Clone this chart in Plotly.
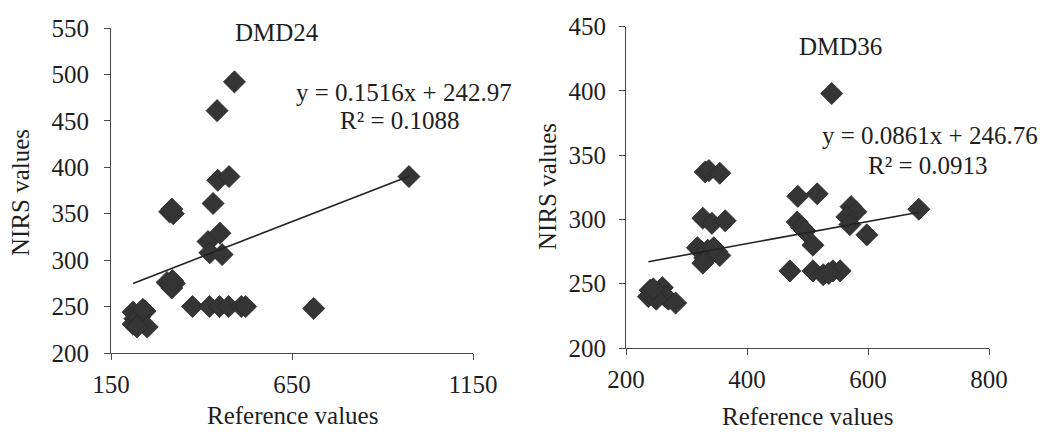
import plotly.graph_objects as go

W, H = 1045, 432

# ---- DMD24 data ----
ref24 = [491, 443, 445, 476, 432, 312, 322, 318, 418, 451, 423, 457,
         305, 315, 325, 318, 320, 375, 422, 450, 475, 510, 522, 710, 973,
         211, 244, 216, 211, 228, 230, 250, 222, 238]
nirs24 = [492, 461, 386, 390, 361, 352, 350, 355, 320, 329, 308, 306,
          276, 273, 275, 270, 278, 250, 250, 250, 250, 250, 250, 248, 390,
          244, 245, 237, 231, 238, 233, 228, 228, 247]

# ---- DMD36 data ----
ref36 = [540, 331, 337, 355, 327, 342, 364,
         318, 325, 330, 335, 340, 350, 355, 345, 327,
         237, 240, 255, 260, 265, 270, 282, 250, 245,
         471, 484, 516, 483, 490, 496, 509,
         509, 526, 542, 554, 535, 572, 580, 565, 570, 598, 684]
nirs36 = [398, 337, 338, 336, 301, 297, 299,
          278, 275, 270, 276, 273, 275, 272, 278, 266,
          240, 245, 242, 247, 240, 238, 235, 238, 246,
          260, 318, 320, 298, 294, 291, 280,
          260, 257, 260, 260, 258, 310, 306, 302, 296, 288, 308]

slope24, icpt24, r2_24 = 0.1516, 242.97, 0.1088
slope36, icpt36, r2_36 = 0.0861, 246.76, 0.0913

titles = ["DMD24", "DMD36"]
x_title = "Reference values"
y_title = "NIRS values"
x24_ticks = [150, 650, 1150]
y24_ticks = [200, 250, 300, 350, 400, 450, 500, 550]
x36_ticks = [200, 400, 600, 800]
y36_ticks = [200, 250, 300, 350, 400, 450]

FONT = "Liberation Serif"
FS = 25
MARK = "#353535"
TXT = "#1e1e1e"
AX = "#4a4a4a"

fig = go.Figure()

def add_panel(xs, ys, slope, icpt, xa, ya):
    fig.add_trace(go.Scatter(
        x=xs, y=ys, mode="markers", xaxis=xa, yaxis=ya, showlegend=False,
        marker=dict(symbol="diamond", size=17, color=MARK,
                    line=dict(color="#2a2a2a", width=0.8))))
    x0, x1 = min(xs), max(xs)
    fig.add_trace(go.Scatter(
        x=[x0, x1], y=[slope * x0 + icpt, slope * x1 + icpt], mode="lines",
        xaxis=xa, yaxis=ya, showlegend=False,
        line=dict(color="#222222", width=1.6)))

add_panel(ref24, nirs24, slope24, icpt24, "x", "y")
add_panel(ref36, nirs36, slope36, icpt36, "x2", "y2")

def px(x):
    return x / W

def py(y):
    return 1 - y / H

axis_common = dict(showline=True, linecolor=AX, linewidth=1.2, ticks="outside",
                   ticklen=6, tickcolor=AX, showgrid=False, zeroline=False,
                   tickfont=dict(family=FONT, size=FS, color=TXT), automargin=False)

fig.update_layout(
    width=W, height=H, margin=dict(l=0, r=0, t=0, b=0),
    paper_bgcolor="white", plot_bgcolor="white",
    xaxis=dict(domain=[px(111), px(473)], range=[150, 1150], tickvals=x24_ticks,
               anchor="y", ticklabelstandoff=3, **axis_common),
    yaxis=dict(domain=[py(353), py(28)], range=[200, 550], tickvals=y24_ticks,
               anchor="x", ticklabelstandoff=10, **axis_common),
    xaxis2=dict(domain=[px(626), px(989)], range=[200, 800], tickvals=x36_ticks,
                anchor="y2", ticklabelstandoff=3, **axis_common),
    yaxis2=dict(domain=[py(348), py(26.7)], range=[200, 450], tickvals=y36_ticks,
                anchor="x2", ticklabelstandoff=8, **axis_common),
)

def ann(text, x, y, angle=0, xanchor="center"):
    fig.add_annotation(text=text, x=px(x), y=py(y), xref="paper", yref="paper",
                       showarrow=False, textangle=angle, xanchor=xanchor, yanchor="middle",
                       font=dict(family=FONT, size=FS, color=TXT))

ann(titles[0], 277, 32)
ann(titles[1], 840, 47)
ann(f"y = {slope24}x + {icpt24}", 514, 92, xanchor="right")
ann(f"R² = {r2_24}", 400, 121)
ann(f"y = {slope36}x + {icpt36}", 1040, 135, xanchor="right")
ann(f"R² = {r2_36}", 928, 165)
ann(y_title, 20, 193, angle=-90)
ann(y_title, 547, 187, angle=-90)
ann(x_title, 292, 415)
ann(x_title, 807, 416)

fig.write_html("out.html", config={"displayModeBar": False},
               post_script="document.body.style.margin='0';")
